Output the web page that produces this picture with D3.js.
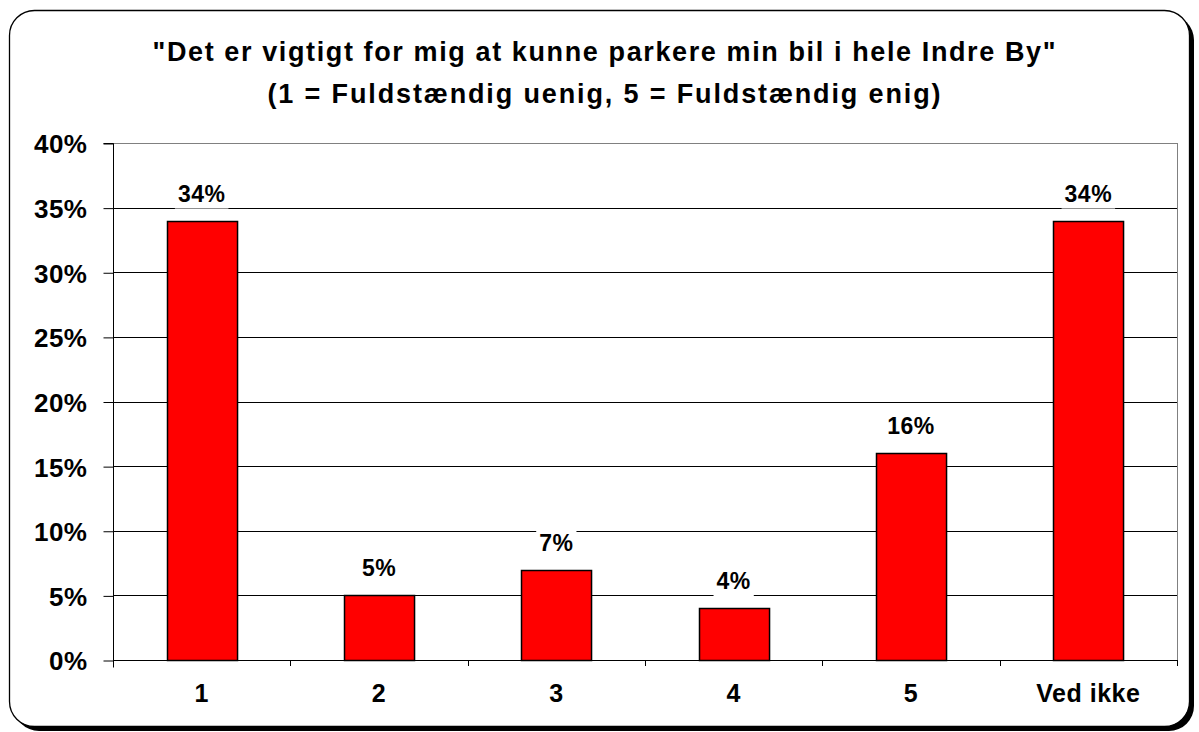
<!DOCTYPE html>
<html><head><meta charset="utf-8">
<script src="https://cdn.jsdelivr.net/npm/d3@7"></script>
<style>html,body{margin:0;padding:0;background:#fff;}svg{display:block;}</style>
</head><body>
<svg id="chart" width="1199" height="732"></svg>
<script>
const categories = ["1", "2", "3", "4", "5", "Ved ikke"];
const values = [34, 5, 7, 4, 16, 34];
const yTickValues = [0, 5, 10, 15, 20, 25, 30, 35, 40];
const titleLines = ["\"Det er vigtigt for mig at kunne parkere min bil i hele Indre By\"", "(1 = Fuldstændig uenig, 5 = Fuldstændig enig)"];

const svg = d3.select("#chart");
const font = "'Liberation Sans', Arial, sans-serif";

// frame with shadow
svg.append("rect").attr("x", 14).attr("y", 15).attr("width", 1180).attr("height", 716).attr("rx", 25).attr("fill", "#000");
svg.append("rect").attr("x", 9.5).attr("y", 10.5).attr("width", 1180).attr("height", 716).attr("rx", 25)
  .attr("fill", "#fff").attr("stroke", "#000").attr("stroke-width", 1.3);

const L = 113, R = 1177, T = 143, B = 660;
const x = d3.scaleBand().domain(categories).range([L, R]).paddingInner(0.605).paddingOuter(0.3025);
const y = d3.scaleLinear().domain([0, 40]).range([B, T]);

// title
const tWidths = [903, 673];
const tBase = [61, 103];
svg.selectAll("text.title").data(titleLines).join("text").attr("class", "title")
  .attr("x", 604).attr("y", (d, i) => tBase[i])
  .attr("text-anchor", "middle").attr("font-family", font).attr("font-weight", "bold").attr("font-size", 27)
  .attr("textLength", (d, i) => tWidths[i]).attr("lengthAdjust", "spacing")
  .text(d => d);

// gridlines
svg.selectAll("line.grid").data(yTickValues.filter(v => v > 0)).join("line").attr("class", "grid")
  .attr("x1", L).attr("x2", R).attr("y1", d => Math.round(y(d)) + 0.5).attr("y2", d => Math.round(y(d)) + 0.5)
  .attr("stroke", d => d === 40 ? "#808080" : "#000").attr("stroke-width", 1);
// right border
svg.append("line").attr("x1", R + 0.5).attr("x2", R + 0.5).attr("y1", T).attr("y2", B).attr("stroke", "#808080");

// y axis
const yAxis = d3.axisLeft(y).tickValues(yTickValues).tickSize(10).tickPadding(16).tickFormat(d => d + "%");
const gy = svg.append("g").attr("transform", `translate(${L + 0.5},0.5)`).call(yAxis);
gy.select(".domain").attr("stroke", "#000").attr("d", `M-10,${Math.round(T)}H0V${B + 7}`);
gy.selectAll(".tick line").attr("stroke", "#000");
gy.selectAll(".tick text").attr("font-family", font).attr("font-weight", "bold").attr("font-size", 26)
  .attr("fill", "#000").attr("letter-spacing", 0.5).attr("dy", "0.36em");

// bars
svg.selectAll("rect.bar").data(values).join("rect").attr("class", "bar")
  .attr("x", (d, i) => Math.round(x(categories[i])) + 0.5).attr("width", x.bandwidth())
  .attr("y", d => Math.round(y(d)) + 0.5).attr("height", d => B - Math.round(y(d)))
  .attr("fill", "#ff0000").attr("stroke", "#000").attr("stroke-width", 1.5);

// x axis
svg.append("line").attr("x1", L).attr("x2", R).attr("y1", B + 0.5).attr("y2", B + 0.5).attr("stroke", "#000");
const bounds = d3.range(categories.length + 1).map(i => L + i * x.step());
svg.selectAll("line.xt").data(bounds).join("line").attr("class", "xt")
  .attr("x1", d => Math.round(d) + 0.5).attr("x2", d => Math.round(d) + 0.5).attr("y1", B).attr("y2", B + 6)
  .attr("stroke", "#000");
svg.selectAll("text.xl").data(categories).join("text").attr("class", "xl")
  .attr("x", d => x(d) + x.bandwidth() / 2).attr("y", 702)
  .attr("text-anchor", "middle").attr("font-family", font).attr("font-weight", "bold").attr("font-size", 25)
  .attr("letter-spacing", 0.5).text(d => d);

// value labels with white background
const lg = svg.selectAll("g.vl").data(values).join("g").attr("class", "vl")
  .attr("transform", (d, i) => `translate(${x(categories[i]) + x.bandwidth() / 2},${y(d) - 19})`);
lg.append("text").attr("text-anchor", "middle").attr("font-family", font).attr("font-weight", "bold")
  .attr("font-size", 23).attr("letter-spacing", 0.5).text(d => d + "%");
lg.each(function() {
  const g = d3.select(this);
  const bb = g.select("text").node().getBBox();
  g.insert("rect", "text").attr("x", bb.x - 3).attr("y", bb.y).attr("width", bb.width + 6).attr("height", bb.height + 2).attr("fill", "#fff");
});
</script>
</body></html>
